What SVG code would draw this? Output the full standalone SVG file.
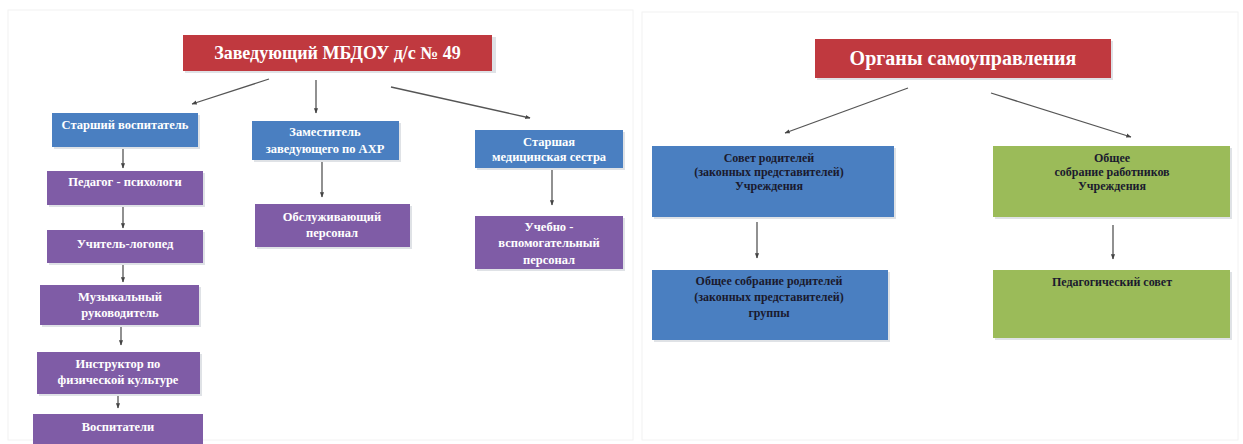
<svg xmlns="http://www.w3.org/2000/svg" width="1243" height="444" viewBox="0 0 1243 444">
<style>
.red{fill:#C0393F}
.blue{fill:#4A7FC1}
.purple{fill:#7F5CA6}
.green{fill:#9BBB59}
.sh{fill:#C9CED6;opacity:0.6}
.tw{font-family:"Liberation Serif",serif;font-weight:bold;fill:#FFFFFF;text-anchor:middle}
.td{font-family:"Liberation Serif",serif;font-weight:bold;fill:#1A1A2E;text-anchor:middle;font-size:12px}
.s{font-size:12.5px}
.big{font-size:18px}
.con line{stroke:#555555;stroke-width:1.3;marker-end:url(#ah)}
.frame{fill:none;stroke:#F2F2F2;stroke-width:1}
</style>
<defs>
<marker id="ah" viewBox="0 0 10 10" refX="9" refY="5" markerWidth="4" markerHeight="4" orient="auto">
<path d="M0,1 L10,5 L0,9 z" fill="#444444"/>
</marker>
</defs>
<rect width="1243" height="444" fill="#FFFFFF"/>
<rect class="frame" x="8" y="10" width="625" height="430"/>
<rect class="frame" x="642" y="12" width="596" height="428"/>

<g id="n-head1">
<rect class="sh" x="185" y="37" width="311" height="36"/>
<rect class="red" x="183" y="35" width="309" height="36"/>
<text class="tw big" x="337.5" y="59">Заведующий МБДОУ д/с  № 49</text>
</g>
<g id="n-senior">
<rect class="sh" x="54" y="115" width="146" height="34"/>
<rect class="blue" x="52" y="113" width="146" height="34"/>
<text class="tw s" x="125" y="129">Старший воспитатель</text>
</g>
<g id="n-psych">
<rect class="sh" x="49" y="173" width="156" height="34"/>
<rect class="purple" x="47" y="171" width="156" height="34"/>
<text class="tw s" x="125" y="186">Педагог - психологи</text>
</g>
<g id="n-logo">
<rect class="sh" x="49" y="232" width="156" height="33"/>
<rect class="purple" x="47" y="230" width="156" height="33"/>
<text class="tw s" x="125" y="248">Учитель-логопед</text>
</g>
<g id="n-music">
<rect class="sh" x="42" y="287" width="159" height="40"/>
<rect class="purple" x="40" y="285" width="159" height="40"/>
<text class="tw s" x="120" y="301">Музыкальный</text>
<text class="tw s" x="120" y="317">руководитель</text>
</g>
<g id="n-phys">
<rect class="sh" x="39" y="354" width="163" height="42"/>
<rect class="purple" x="37" y="352" width="163" height="42"/>
<text class="tw s" x="118" y="368">Инструктор по</text>
<text class="tw s" x="118" y="384">физической культуре</text>
</g>
<g id="n-vosp">
<rect class="purple" x="33" y="414" width="170" height="30"/>
<text class="tw s" x="118" y="431">Воспитатели</text>
</g>
<g id="n-deputy">
<rect class="sh" x="254" y="123" width="147" height="39"/>
<rect class="blue" x="252" y="121" width="147" height="39"/>
<text class="tw s" x="325" y="136">Заместитель</text>
<text class="tw s" x="325" y="153">заведующего по АХР</text>
</g>
<g id="n-service">
<rect class="sh" x="257" y="206" width="155" height="43"/>
<rect class="purple" x="255" y="204" width="155" height="43"/>
<text class="tw s" x="332" y="221">Обслуживающий</text>
<text class="tw s" x="332" y="237">персонал</text>
</g>
<g id="n-nurse">
<rect class="sh" x="477" y="132" width="148" height="38"/>
<rect class="blue" x="475" y="130" width="148" height="38"/>
<text class="tw s" x="549" y="146">Старшая</text>
<text class="tw s" x="549" y="161">медицинская сестра</text>
</g>
<g id="n-aux">
<rect class="sh" x="477" y="218" width="148" height="53"/>
<rect class="purple" x="475" y="216" width="148" height="53"/>
<text class="tw s" x="549" y="231">Учебно -</text>
<text class="tw s" x="549" y="247">вспомогательный</text>
<text class="tw s" x="549" y="264">персонал</text>
</g>

<g id="n-head2">
<rect class="sh" x="817" y="41" width="296" height="39"/>
<rect class="red" x="815" y="39" width="296" height="39"/>
<text class="tw" x="963" y="65" style="font-size:20px">Органы самоуправления</text>
</g>
<g id="n-council">
<rect class="sh" x="654" y="148" width="242" height="71"/>
<rect class="blue" x="652" y="146" width="242" height="71"/>
<text class="td" x="769" y="162">Совет родителей</text>
<text class="td" x="769" y="176">(законных представителей)</text>
<text class="td" x="769" y="190">Учреждения</text>
</g>
<g id="n-workers">
<rect class="sh" x="995" y="148" width="237" height="71"/>
<rect class="green" x="993" y="146" width="237" height="71"/>
<text class="td" x="1112" y="162">Общее</text>
<text class="td" x="1112" y="176">собрание работников</text>
<text class="td" x="1112" y="190">Учреждения</text>
</g>
<g id="n-parents">
<rect class="sh" x="654" y="272" width="236" height="70"/>
<rect class="blue" x="652" y="270" width="236" height="70"/>
<text class="td" x="769" y="285">Общее собрание родителей</text>
<text class="td" x="769" y="301">(законных представителей)</text>
<text class="td" x="769" y="317">группы</text>
</g>
<g id="n-ped">
<rect class="sh" x="995" y="272" width="237" height="68"/>
<rect class="green" x="993" y="270" width="237" height="68"/>
<text class="td" x="1112" y="286">Педагогический совет</text>
</g>

<g id="connectors" class="con">
<line x1="269" y1="79" x2="192" y2="104"/>
<line x1="316" y1="80" x2="316" y2="113"/>
<line x1="391" y1="87" x2="530" y2="118"/>
<line x1="123" y1="149" x2="123" y2="168"/>
<line x1="123" y1="207" x2="123" y2="228"/>
<line x1="123" y1="265" x2="123" y2="282"/>
<line x1="121" y1="327" x2="121" y2="345"/>
<line x1="118" y1="396" x2="118" y2="408"/>
<line x1="322" y1="162" x2="322" y2="197"/>
<line x1="552" y1="170" x2="552" y2="205"/>
<line x1="908" y1="88" x2="785" y2="133"/>
<line x1="991" y1="93" x2="1131" y2="137"/>
<line x1="757" y1="222" x2="757" y2="258"/>
<line x1="1113" y1="225" x2="1113" y2="259"/>
</g>
</svg>
